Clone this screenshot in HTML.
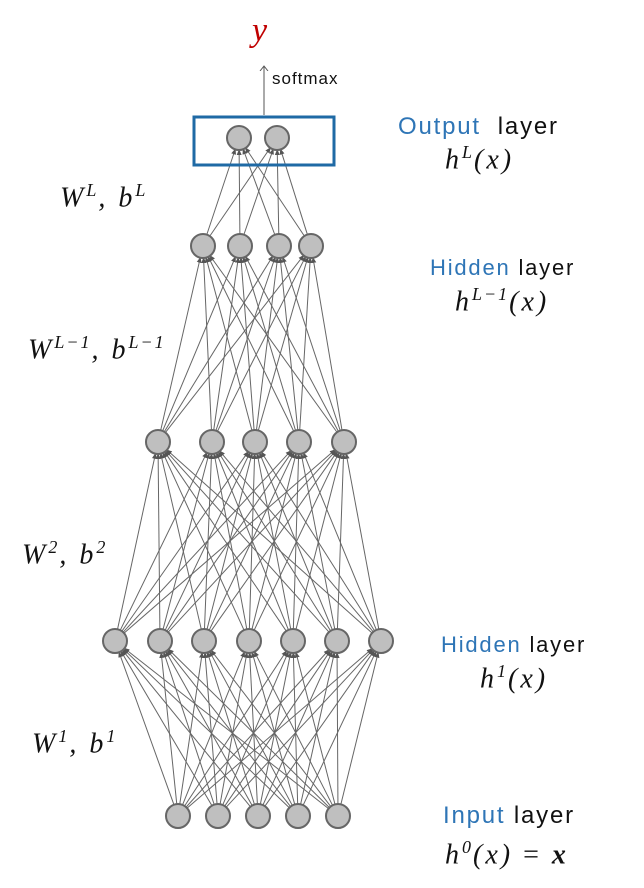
<!DOCTYPE html>
<html><head><style>
body{margin:0;background:#fff;width:644px;height:888px;overflow:hidden;position:relative;font-family:"Liberation Sans",sans-serif}
.t{position:absolute;white-space:nowrap;color:#111}
.m{font-family:"Liberation Serif",serif;font-style:italic;font-size:28px;letter-spacing:3px}
.m sup{font-size:18px;letter-spacing:2px}
.lab{font-size:22px;letter-spacing:1.8px}
.b{color:#2E75B6}
</style></head><body>
<svg id="s" width="644" height="888" style="position:absolute;left:0;top:0">
<defs><marker id="a" markerWidth="6" markerHeight="6" refX="5" refY="3" orient="auto" markerUnits="userSpaceOnUse"><path d="M0,0.5 L6,3 L0,5.5 z" fill="#555"/></marker>
<marker id="a2" markerWidth="10" markerHeight="10" refX="5" refY="5" orient="auto" markerUnits="userSpaceOnUse"><path d="M0,1 L5,5 L0,9" fill="none" stroke="#555" stroke-width="1"/></marker></defs>
<g id="L"></g><g id="N"></g>
<rect x="194" y="117" width="140" height="48" fill="none" stroke="#1F6AA5" stroke-width="3"/>
<line x1="264" y1="115" x2="264" y2="66" stroke="#555" stroke-width="1" marker-end="url(#a2)"/>
</svg>
<script>
var layers=[
[[178,816],[218,816],[258,816],[298,816],[338,816]],
[[115,641],[160,641],[204,641],[249,641],[293,641],[337,641],[381,641]],
[[158,442],[212,442],[255,442],[299,442],[344,442]],
[[203,246],[240,246],[279,246],[311,246]],
[[239,138],[277,138]]];
var L='',N='',r=12;
for(var i=0;i<layers.length-1;i++)for(var a of layers[i])for(var b of layers[i+1]){
var dx=b[0]-a[0],dy=b[1]-a[1],d=Math.hypot(dx,dy);
L+='<line x1="'+(a[0]+dx/d*r)+'" y1="'+(a[1]+dy/d*r)+'" x2="'+(b[0]-dx/d*r)+'" y2="'+(b[1]-dy/d*r)+'" stroke="#666" stroke-width="1" marker-end="url(#a)"/>';}
for(var l of layers)for(var p of l)N+='<circle cx="'+p[0]+'" cy="'+p[1]+'" r="'+r+'" fill="#bfbfbf" stroke="#666" stroke-width="2"/>';
document.getElementById('L').innerHTML=L;document.getElementById('N').innerHTML=N;
</script>
<div class="t m" style="left:252px;top:12px;color:#C00000;font-size:34px">y</div>
<div class="t" style="left:272px;top:69px;font-size:17px;letter-spacing:1px">softmax</div>
<div class="t lab" style="left:398px;top:113px;font-size:24px"><span class="b">Output</span>&nbsp; layer</div>
<div class="t m" style="left:445px;top:142px">h<sup>L</sup>(x)</div>
<div class="t lab" style="left:430px;top:255px"><span class="b">Hidden</span> layer</div>
<div class="t m" style="left:455px;top:284px">h<sup>L−1</sup>(x)</div>
<div class="t lab" style="left:441px;top:632px"><span class="b">Hidden</span> layer</div>
<div class="t m" style="left:480px;top:661px">h<sup>1</sup>(x)</div>
<div class="t lab" style="left:443px;top:802px;font-size:24px"><span class="b">Input</span> layer</div>
<div class="t m" style="left:445px;top:837px">h<sup>0</sup>(x) <span style="font-style:normal">=</span> <b>x</b></div>
<div class="t m" style="left:60px;top:180px">W<sup>L</sup>, b<sup>L</sup></div>
<div class="t m" style="left:28px;top:332px">W<sup>L−1</sup>, b<sup>L−1</sup></div>
<div class="t m" style="left:22px;top:537px">W<sup>2</sup>, b<sup>2</sup></div>
<div class="t m" style="left:32px;top:726px">W<sup>1</sup>, b<sup>1</sup></div>
</body></html>
